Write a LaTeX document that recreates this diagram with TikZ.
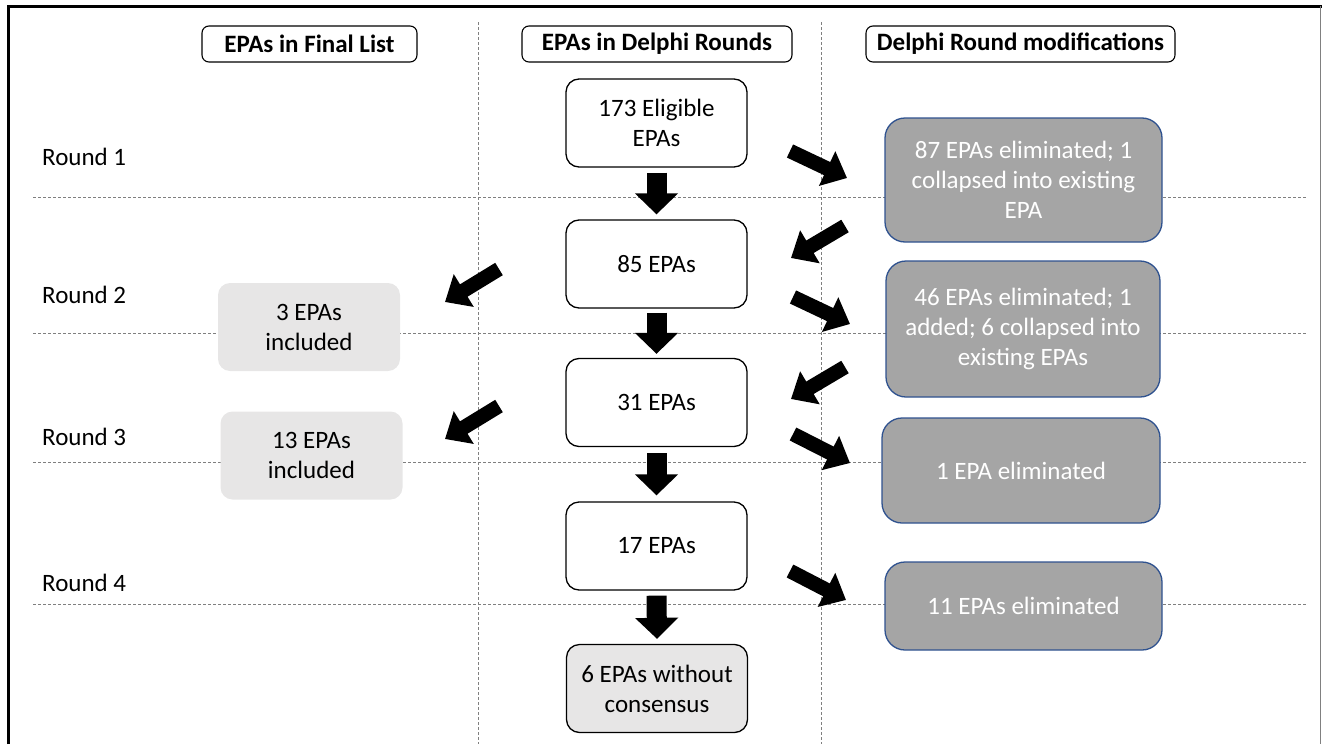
\documentclass[tikz,border=0pt]{standalone}
\usepackage{fontspec}
\setmainfont{Carlito}
\usetikzlibrary{arrows.meta}
\definecolor{darkbox}{HTML}{A5A5A5}
\definecolor{darkedge}{HTML}{2F528F}
\definecolor{lightbox}{HTML}{E7E6E6}
\definecolor{dashgray}{HTML}{7F7F7F}
\tikzset{
  txt/.style={font=\fontsize{25}{30}\selectfont, align=center, inner sep=0pt},
  header/.style={txt, font=\fontsize{25}{30}\selectfont\bfseries, draw=black, line width=1.1pt, fill=white, rounded corners=7pt, minimum height=36pt},
  whitebox/.style={txt, draw=black, line width=1.3pt, fill=white, rounded corners=13pt, minimum width=181pt, minimum height=88pt},
  greybox/.style={whitebox, fill=lightbox},
  modbox/.style={txt, text=white, draw=darkedge, line width=1.3pt, fill=darkbox, rounded corners=20pt},
  inclbox/.style={txt, fill=lightbox, rounded corners=12pt, minimum width=182pt, minimum height=88pt},
  roundlbl/.style={txt, anchor=west},
  guide/.style={draw=dashgray, line width=0.8pt, dash pattern=on 3pt off 2pt},
  downarrow/.style={line width=20pt, -{Triangle[length=21pt,width=42pt]}},
  diagarrow/.style={line width=14.5pt, -{Triangle[length=22pt,width=37pt]}},
}
\begin{document}
\begin{tikzpicture}[x=1pt,y=-1pt]
\useasboundingbox (0,0) rectangle (1322,744);
% frame
\draw[line width=3pt] (8,744) -- (8,6) -- (1322,6);
\draw[line width=1pt, gray] (1320.5,6) -- (1320.5,744);
% guides
\draw[guide] (478,22) -- (478,744);
\draw[guide] (821,22) -- (821,744);
\draw[guide] (33,197) -- (1307,197);
\draw[guide] (33,333) -- (1307,333);
\draw[guide] (33,462) -- (1307,462);
\draw[guide] (33,604) -- (1307,604);
% headers
\node[header, minimum width=215pt] (h1) at (309.5,44) {EPAs in Final List};
\node[header, minimum width=270pt] (h2) at (657,44) {EPAs in Delphi Rounds};
\node[header, minimum width=309pt] (h3) at (1020.5,44) {Delphi Round modifications};
% round labels
\node[roundlbl] (r1) at (42,157) {Round 1};
\node[roundlbl] (r2) at (42,295) {Round 2};
\node[roundlbl] (r3) at (42,437) {Round 3};
\node[roundlbl] (r4) at (42,583) {Round 4};
% delphi column
\node[whitebox] (n173) at (656.5,123) {173 Eligible\\EPAs};
\node[whitebox] (n85) at (656.5,264) {85 EPAs};
\node[whitebox] (n31) at (656.5,402.5) {31 EPAs};
\node[whitebox] (n17) at (656.5,546) {17 EPAs};
\node[greybox] (n6) at (657,688.5) {6 EPAs without\\consensus};
% modification column
\node[modbox, minimum width=277pt, minimum height=124pt] (m1) at (1023.5,180) {87 EPAs eliminated; 1\\collapsed into existing\\EPA};
\node[modbox, minimum width=274pt, minimum height=136pt] (m2) at (1023,329) {46 EPAs eliminated; 1\\added; 6 collapsed into\\existing EPAs};
\node[modbox, minimum width=278pt, minimum height=105pt] (m3) at (1021,470.5) {1 EPA eliminated};
\node[modbox, minimum width=277pt, minimum height=88pt] (m4) at (1023.5,606) {11 EPAs eliminated};
% final list column
\node[inclbox] (f1) at (309,327) {3 EPAs\\included};
\node[inclbox] (f2) at (311.5,455.5) {13 EPAs\\included};
% arrow end points
\coordinate (r1s) at (790,151); \coordinate (r1e) at (847,178);
\coordinate (l1s) at (845,226); \coordinate (l1e) at (791,258);
\coordinate (r2s) at (793,297); \coordinate (r2e) at (850,324);
\coordinate (l2s) at (845,367); \coordinate (l2e) at (791,399);
\coordinate (r3s) at (793,434); \coordinate (r3e) at (850,463);
\coordinate (r4s) at (790,571); \coordinate (r4e) at (846,600);
\coordinate (f1s) at (499,269); \coordinate (f1e) at (445,302);
\coordinate (f2s) at (499,406); \coordinate (f2e) at (445,439);
% down arrows
\draw[downarrow] ([yshift=-5pt]n173.south) -- ([yshift=5pt]n85.north);
\draw[downarrow] ([yshift=-4pt]n85.south) -- ([yshift=4pt]n31.north);
\draw[downarrow] ([yshift=-6pt]n31.south) -- ([yshift=6pt]n17.north);
\draw[downarrow] ([yshift=-5pt]n17.south) -- ([yshift=5pt]n6.north);
% diagonal arrows
\draw[diagarrow] (r1s) -- (r1e);
\draw[diagarrow] (l1s) -- (l1e);
\draw[diagarrow] (r2s) -- (r2e);
\draw[diagarrow] (l2s) -- (l2e);
\draw[diagarrow] (r3s) -- (r3e);
\draw[diagarrow] (r4s) -- (r4e);
\draw[diagarrow] (f1s) -- (f1e);
\draw[diagarrow] (f2s) -- (f2e);
\end{tikzpicture}
\end{document}
